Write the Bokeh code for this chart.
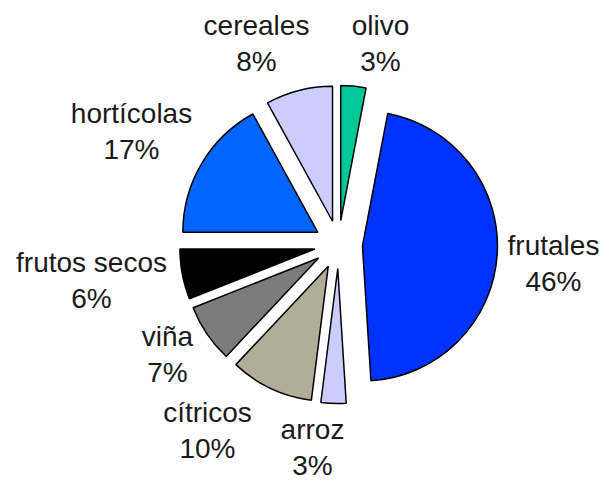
import math
from bokeh.plotting import figure
from bokeh.models import Range1d, ColumnDataSource
from bokeh.core.properties import value
from bokeh.embed import file_html
from bokeh.resources import INLINE

# ---- data (clockwise from 12 o'clock) ----
categories = ["olivo", "frutales", "arroz", "cítricos", "viña", "frutos secos", "hortícolas", "cereales"]
percents = [3, 46, 3, 10, 7, 6, 17, 8]
colors = ["#00C896", "#0033FF", "#CCCCFF", "#B2AD99", "#7C7C7C", "#000000", "#0066FF", "#CCCCFF"]

# ---- layout (screen-like coordinates: x right, y = -screen_y) ----
CX, CY = 338, -244       # pie centre
R = 135                  # radius
EXPLODE = 24             # radial offset of every slice
# label centres (name line), percent line drawn below
label_pos = {
    "olivo": (380, -25),
    "frutales": (553, -245),
    "arroz": (312, -429),
    "cítricos": (207, -412),
    "viña": (167, -336),
    "frutos secos": (91, -262),
    "hortícolas": (131, -113),
    "cereales": (256, -25),
}
LINE_GAP = 36

W, H = 606, 482
p = figure(width=W, height=H, output_backend="svg", toolbar_location=None,
           x_range=Range1d(0, W), y_range=Range1d(-H, 0),
           min_border=0)
p.axis.visible = False
p.grid.visible = False
p.outline_line_color = None
p.background_fill_color = "white"
p.border_fill_color = "white"

total = float(sum(percents))
xs, ys, starts, ends = [], [], [], []
cum = 0.0
for v in percents:
    t1 = cum / total * 2 * math.pi          # clockwise from top
    t2 = (cum + v) / total * 2 * math.pi
    mid = (t1 + t2) / 2
    xs.append(CX + EXPLODE * math.sin(mid))
    ys.append(CY + EXPLODE * math.cos(mid))
    starts.append(math.pi / 2 - t2)
    ends.append(math.pi / 2 - t1)
    cum += v

src = ColumnDataSource(dict(x=xs, y=ys, start=starts, end=ends, color=colors, cat=categories))
p.wedge(x="x", y="y", radius=R, start_angle="start", end_angle="end",
        fill_color="color", line_color="black", line_width=1.5, source=src)

lx = [label_pos[c][0] for c in categories]
ly = [label_pos[c][1] for c in categories]
ly2 = [y - LINE_GAP for y in ly]
pct_txt = [f"{v}%" for v in percents]
lsrc = ColumnDataSource(dict(x=lx, y=ly, y2=ly2, name=categories, pct=pct_txt))
for ycol, tcol in (("y", "name"), ("y2", "pct")):
    p.text(x="x", y=ycol, text=tcol, source=lsrc, text_align="center",
           text_baseline="middle", text_font=value("Liberation Sans"),
           text_font_size="28px", text_color="#1a1a1a")

open("out.html", "w").write(file_html(p, INLINE))
